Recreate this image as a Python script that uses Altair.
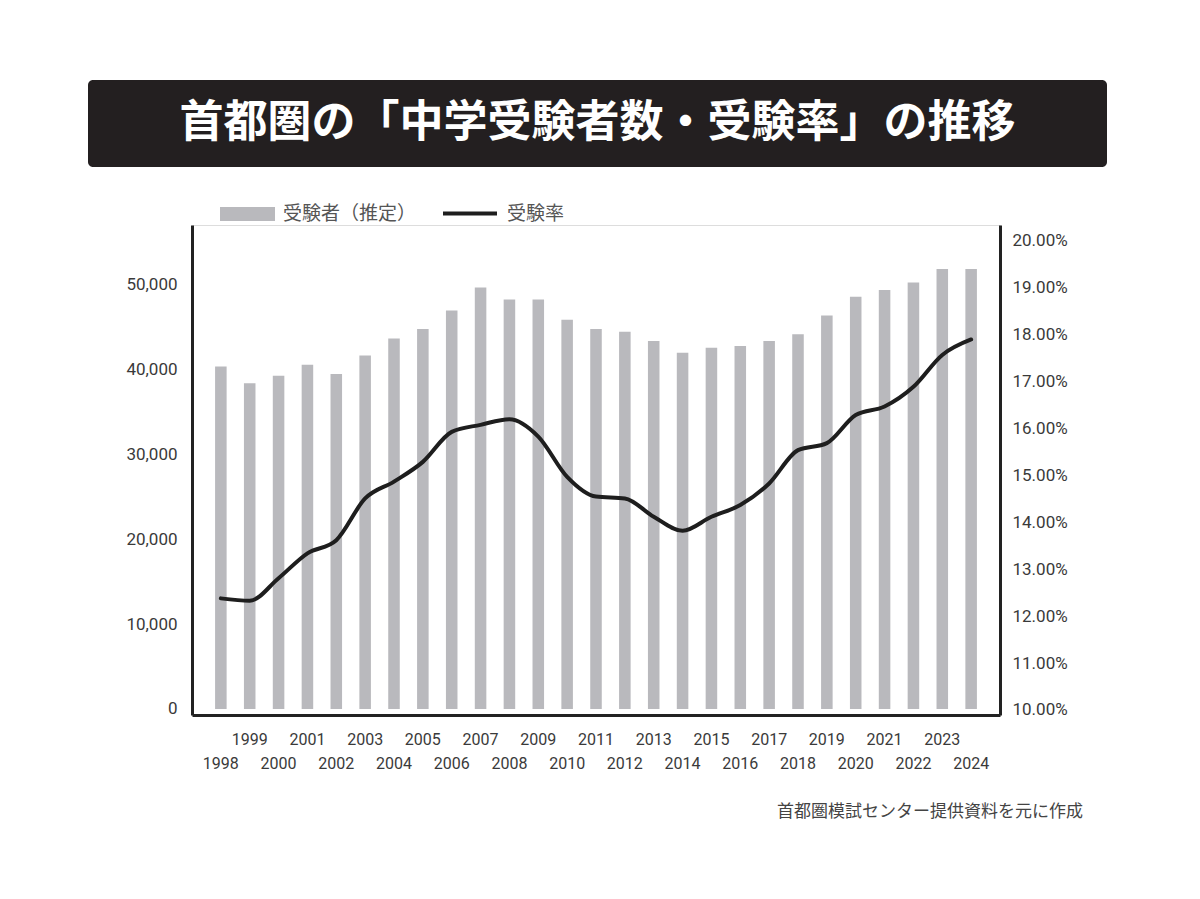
import altair as alt
import pandas as pd

# ---- data ----
years = list(range(1998, 2025))
examinees = [40400, 38400, 39300, 40600, 39500, 41700, 43700, 44800, 47000, 49700,
             48300, 48300, 45900, 44800, 44500, 43400, 42000, 42600, 42800, 43400,
             44200, 46400, 48600, 49400, 50300, 51900, 51900]
rates = [12.38, 12.33, 12.81, 13.34, 13.62, 14.51, 14.87, 15.29, 15.93, 16.08,
         16.20, 15.83, 14.97, 14.55, 14.51, 14.12, 13.82, 14.12, 14.37, 14.83,
         15.54, 15.69, 16.29, 16.47, 16.89, 17.57, 17.90]
count_ticks = [0, 10000, 20000, 30000, 40000, 50000]
rate_ticks = [10, 11, 12, 13, 14, 15, 16, 17, 18, 19, 20]
title_text = "首都圏の「中学受験者数・受験率」の推移"
legend_bar_label = "受験者（推定）"
legend_line_label = "受験率"
source_text = "首都圏模試センター提供資料を元に作成"

df = pd.DataFrame({"year": years, "count": examinees, "rate": rates})
one = pd.DataFrame({"k": [0]})

W, H = 808, 490
LABEL_FONT = "Roboto"
LABEL_COLOR = "#3a3a3a"

x_enc = alt.X(
    "year:O", title=None,
    scale=alt.Scale(paddingInner=0.6, paddingOuter=0.8),
    axis=alt.Axis(
        labelAngle=0,
        labelExpr="datum.value % 2 == 0 ? ['', datum.label] : datum.label",
        labelLineHeight=24, labelBaseline="top", labelPadding=16,
        ticks=False, tickSize=0, domainColor="#222222", domainWidth=3,
        labelFont=LABEL_FONT, labelFontSize=16, labelColor=LABEL_COLOR,
        labelOverlap=False,
    ),
)

bars = alt.Chart(df).mark_bar(color="#b9b9bd").encode(
    x=x_enc,
    y=alt.Y("count:Q",
            scale=alt.Scale(domain=[-708, 57075], nice=False, zero=False),
            axis=alt.Axis(orient="left", values=count_ticks, title=None,
                          labelExpr="format(datum.value, ',')",
                          ticks=False, tickSize=0, grid=False,
                          domainColor="#222222", domainWidth=3,
                          labelFont=LABEL_FONT, labelFontSize=17,
                          labelColor=LABEL_COLOR, labelPadding=15)),
    y2=alt.value(H),
)

line = alt.Chart(df).mark_line(color="#1e1e1e", strokeWidth=4, interpolate="monotone",
                               strokeCap="round", strokeJoin="round").encode(
    x=x_enc,
    y=alt.Y("rate:Q",
            scale=alt.Scale(domain=[9.893, 20.341], nice=False, zero=False),
            axis=alt.Axis(orient="right", values=rate_ticks, title=None,
                          labelExpr="format(datum.value, '.2f') + '%'",
                          ticks=False, tickSize=0, grid=False,
                          domainColor="#222222", domainWidth=3,
                          labelFont=LABEL_FONT, labelFontSize=17,
                          labelColor=LABEL_COLOR, labelPadding=12)),
)

banner = alt.Chart(one).mark_rect(color="#231f20", cornerRadius=5).encode(
    x=alt.value(-104), x2=alt.value(915), y=alt.value(-145), y2=alt.value(-58))

title = alt.Chart(one).mark_text(
    text=title_text, font="Noto Sans CJK JP", fontWeight="bold", fontSize=44,
    color="white", align="center", baseline="middle").encode(
    x=alt.value(405.5), y=alt.value(-101.5))

leg_swatch = alt.Chart(one).mark_rect(color="#b9b9bd").encode(
    x=alt.value(28), x2=alt.value(83), y=alt.value(-18), y2=alt.value(-4))
leg_text1 = alt.Chart(one).mark_text(
    text=legend_bar_label, font="Noto Sans CJK JP", fontSize=19, color="#555555",
    align="left", baseline="middle").encode(x=alt.value(91), y=alt.value(-11))
leg_rule = alt.Chart(one).mark_rule(color="#1e1e1e", strokeWidth=4).encode(
    x=alt.value(251), x2=alt.value(305), y=alt.value(-11.5))
leg_text2 = alt.Chart(one).mark_text(
    text=legend_line_label, font="Noto Sans CJK JP", fontSize=19, color="#555555",
    align="left", baseline="middle").encode(x=alt.value(315), y=alt.value(-11))

source = alt.Chart(one).mark_text(
    text=source_text, font="Noto Sans CJK JP", fontSize=17, color="#444444",
    align="right", baseline="middle").encode(x=alt.value(891), y=alt.value(587))

chart = alt.layer(
    bars, line, banner, title, leg_swatch, leg_text1, leg_rule, leg_text2, source
).resolve_scale(y="independent").properties(
    width=W, height=H,
    padding={"left": 184, "top": 217, "right": 180, "bottom": 170},
    autosize=alt.AutoSizeParams(type="none"),
    background="white",
).configure_view(stroke=None).configure(font="Noto Sans CJK JP")

chart.save("out.html", embed_options={"renderer": "svg", "actions": False})
